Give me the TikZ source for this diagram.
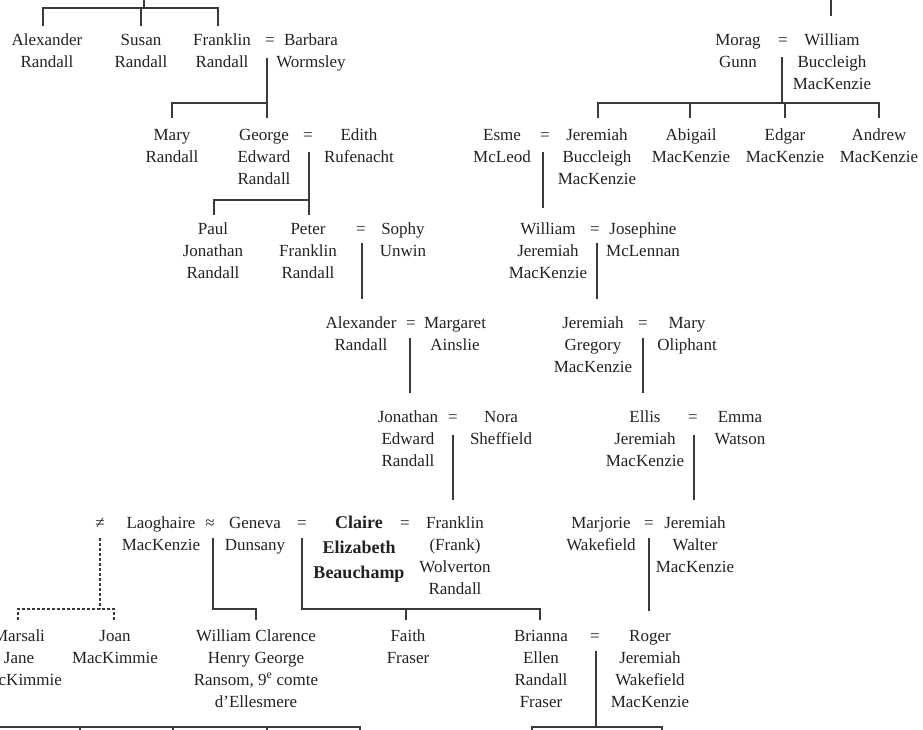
\documentclass[tikz,border=0pt]{standalone}
\usepackage{fontspec}
\setmainfont{Liberation Serif}
\definecolor{ink}{HTML}{222222}
\definecolor{linec}{HTML}{3A3A3A}
\newcommand\pfont{\fontsize{17}{22}\selectfont}
\newcommand\cfont{\fontsize{18}{25}\selectfont\bfseries}
% person node: x, baseline of first line, text
\newcommand\pn[4]{\node[pers] (#1) at (#2,#3-15.4) {\strut #4};}
\newcommand\sy[4]{\node[sym] (#1) at (#2,#3) {#4};}
\tikzset{
  pers/.style={anchor=north, align=center, inner sep=0pt, font=\pfont, text=ink},
  sym/.style={anchor=base, inner sep=0pt, font=\pfont, text=ink},
  ln/.style={draw=linec, line width=1.1pt},
  dln/.style={draw=linec, line width=1.1pt, dash pattern=on 3pt off 2pt},
}
\begin{document}
\begin{tikzpicture}[x=1pt,y=-1pt]
\useasboundingbox (0,0) rectangle (923,729);
\clip (0,0) rectangle (923,729);

% ---------- row A
\pn{alexR}{47}{45}{Alexander\\Randall}
\pn{susan}{141}{45}{Susan\\Randall}
\pn{frankR}{222}{45}{Franklin\\Randall}
\sy{eqA1}{270}{45}{=}
\pn{barbara}{311}{45}{Barbara\\Wormsley}
\pn{morag}{738}{45}{Morag\\Gunn}
\sy{eqA2}{783}{45}{=}
\pn{williamBM}{832}{45}{William\\Buccleigh\\MacKenzie}

% ---------- row B
\pn{maryR}{172}{140}{Mary\\Randall}
\pn{george}{264}{140}{George\\Edward\\Randall}
\sy{eqB1}{308}{140}{=}
\pn{edith}{359}{140}{Edith\\Rufenacht}
\pn{esme}{502}{140}{Esme\\McLeod}
\sy{eqB2}{545}{140}{=}
\pn{jerBM}{597}{140}{Jeremiah\\Buccleigh\\MacKenzie}
\pn{abigail}{691}{140}{Abigail\\MacKenzie}
\pn{edgar}{785}{140}{Edgar\\MacKenzie}
\pn{andrew}{879}{140}{Andrew\\MacKenzie}

% ---------- row C
\pn{paul}{213}{234}{Paul\\Jonathan\\Randall}
\pn{peter}{308}{234}{Peter\\Franklin\\Randall}
\sy{eqC1}{361}{234}{=}
\pn{sophy}{403}{234}{Sophy\\Unwin}
\pn{williamJM}{548}{234}{William\\Jeremiah\\MacKenzie}
\sy{eqC2}{595}{234}{=}
\pn{josephine}{643}{234}{Josephine\\McLennan}

% ---------- row D
\pn{alexR2}{361}{328}{Alexander\\Randall}
\sy{eqD1}{411}{328}{=}
\pn{margaret}{455}{328}{Margaret\\Ainslie}
\pn{jerGM}{593}{328}{Jeremiah\\Gregory\\MacKenzie}
\sy{eqD2}{643}{328}{=}
\pn{maryO}{687}{328}{Mary\\Oliphant}

% ---------- row E
\pn{jonathan}{408}{422}{Jonathan\\Edward\\Randall}
\sy{eqE1}{453}{422}{=}
\pn{nora}{501}{422}{Nora\\Sheffield}
\pn{ellis}{645}{422}{Ellis\\Jeremiah\\MacKenzie}
\sy{eqE2}{693}{422}{=}
\pn{emma}{740}{422}{Emma\\Watson}

% ---------- row F
\sy{neq}{100}{528}{≠}
\pn{laoghaire}{161}{528}{Laoghaire\\MacKenzie}
\sy{approx}{210}{528}{≈}
\pn{geneva}{255}{528}{Geneva\\Dunsany}
\sy{eqF1}{302}{528}{=}
\node[pers, font=\cfont] (claire) at (359,528-17.5) {\strut Claire\\Elizabeth\\Beauchamp};
\sy{eqF2}{405}{528}{=}
\pn{frank}{455}{528}{Franklin\\(Frank)\\Wolverton\\Randall}
\pn{marjorie}{601}{528}{Marjorie\\Wakefield}
\sy{eqF3}{649}{528}{=}
\pn{jerWM}{695}{528}{Jeremiah\\Walter\\MacKenzie}

% ---------- row G
\pn{marsali}{19}{641}{Marsali\\Jane\\MacKimmie}
\pn{joan}{115}{641}{Joan\\MacKimmie}
\pn{williamCR}{256}{641}{William Clarence\\Henry George\\Ransom, 9\textsuperscript{e} comte\\d’Ellesmere}
\pn{faith}{408}{641}{Faith\\Fraser}
\pn{brianna}{541}{641}{Brianna\\Ellen\\Randall\\Fraser}
\sy{eqG}{595}{641}{=}
\pn{roger}{650}{641}{Roger\\Jeremiah\\Wakefield\\MacKenzie}

% ---------- junction coordinates
\coordinate (topL) at (144,-3);
\coordinate (barTL) at (144,8);
\coordinate (topR) at (831,-3);
\coordinate (mA1) at (267,58);  \coordinate (barA1) at (267,103);
\coordinate (mA2) at (782,57);  \coordinate (barA2) at (782,103);
\coordinate (mB1) at (309,152); \coordinate (barB1) at (309,200);
\coordinate (mB2) at (543,152);
\coordinate (mC1) at (362,243);
\coordinate (mC2) at (597,243);
\coordinate (mD1) at (410,338);
\coordinate (mD2) at (643,338);
\coordinate (mE1) at (453,435);
\coordinate (mE2) at (694,435);
\coordinate (mF0) at (100,538); \coordinate (barF0) at (100,609);
\coordinate (mF1) at (213,538); \coordinate (barF1) at (213,609);
\coordinate (mF2) at (302,538); \coordinate (barF2) at (302,609);
\coordinate (mF3) at (649,538);
\coordinate (mG) at (596,651);  \coordinate (barG) at (596,727);
\coordinate (barBL) at (-5,727);

% ---------- connectors
\draw[ln] (topL) -- (barTL);
\draw[ln] (43,26) -- (43,8) -- (218,8) -- (218,26);
\draw[ln] (141,8) -- (141,26);
\draw[ln] (topR) -- (831,16);

\draw[ln] (mA1) -- (barA1) -- (267,118);
\draw[ln] (barA1) -- (172,103) -- (172,118);

\draw[ln] (mA2) -- (barA2);
\draw[ln] (598,118) -- (598,103) -- (879,103) -- (879,118);
\draw[ln] (690,103) -- (690,118);
\draw[ln] (785,103) -- (785,118);

\draw[ln] (mB1) -- (barB1) -- (309,215);
\draw[ln] (barB1) -- (214,200) -- (214,215);
\draw[ln] (mB2) -- (543,208);

\draw[ln] (mC1) -- (362,299);
\draw[ln] (mC2) -- (597,299);
\draw[ln] (mD1) -- (410,393);
\draw[ln] (mD2) -- (643,393);
\draw[ln] (mE1) -- (453,500);
\draw[ln] (mE2) -- (694,500);

\draw[dln] (mF0) -- (barF0);
\draw[dln] (18,620) -- (18,609) -- (114,609) -- (114,620);
\draw[ln] (mF1) -- (barF1) -- (256,609) -- (256,620);
\draw[ln] (mF2) -- (barF2) -- (540,609) -- (540,620);
\draw[ln] (406,609) -- (406,620);
\draw[ln] (mF3) -- (649,611);

\draw[ln] (mG) -- (barG);
\draw[ln] (532,735) -- (532,727) -- (662,727) -- (662,735);
\draw[ln] (barBL) -- (360,727) -- (360,735);
\draw[ln] (80,727) -- (80,735);
\draw[ln] (173,727) -- (173,735);
\draw[ln] (267,727) -- (267,735);
\end{tikzpicture}
\end{document}
